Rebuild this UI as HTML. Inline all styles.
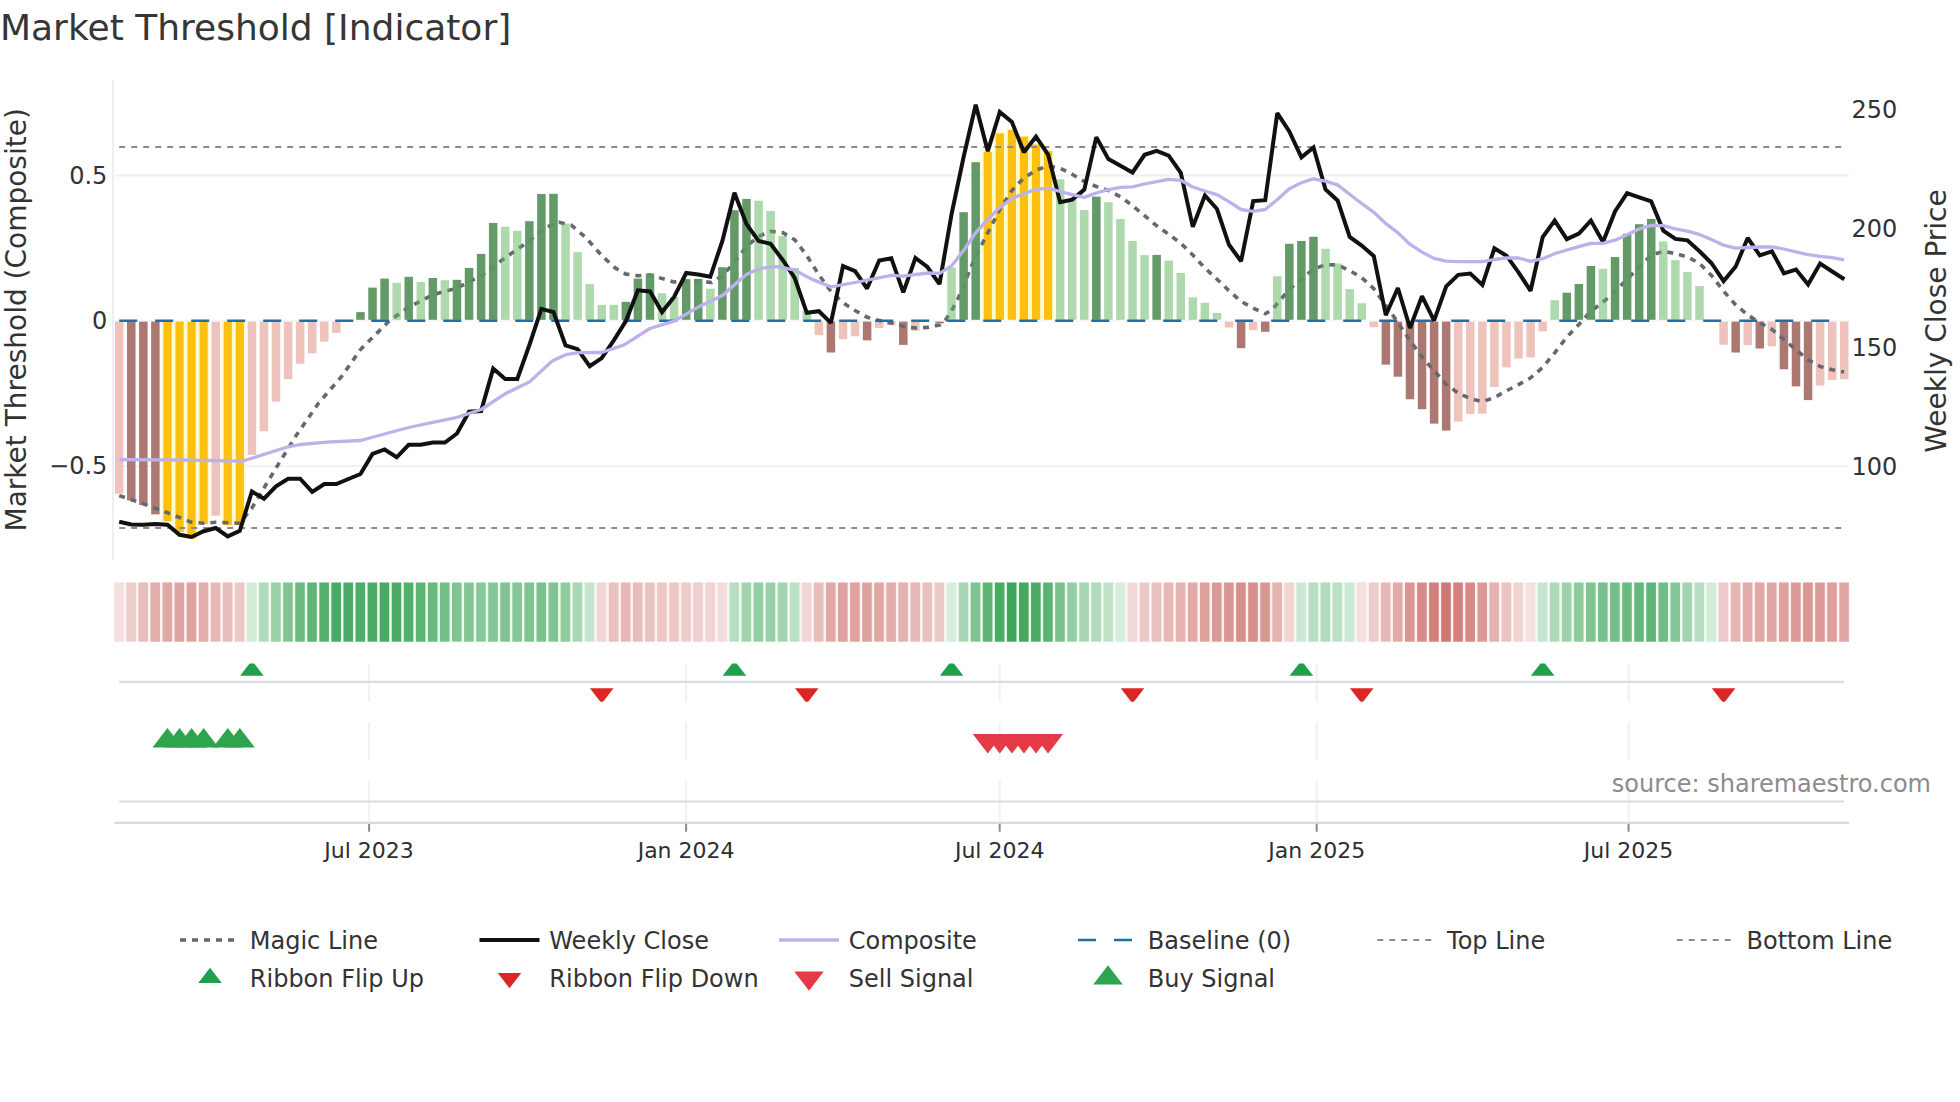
<!DOCTYPE html><html><head><meta charset="utf-8"><title>Market Threshold [Indicator]</title>
<style>html,body{margin:0;padding:0;background:#fff;}svg{display:block;font-family:"DejaVu Sans","Liberation Sans",sans-serif;}text{font-family:"DejaVu Sans","Liberation Sans",sans-serif;}</style></head><body>
<svg width="1960" height="1102" viewBox="0 0 1960 1102">
<rect width="1960" height="1102" fill="#fff"/>
<defs><clipPath id="cm"><rect x="115" y="80" width="1734" height="480"/></clipPath><clipPath id="cf"><rect x="115" y="663.6" width="1734" height="38.1"/></clipPath></defs>
<g stroke="#f0f0f3" stroke-width="2">
<line x1="115" x2="1849" y1="175.4" y2="175.4"/>
<line x1="115" x2="1849" y1="466.2" y2="466.2"/>
</g>
<line x1="115" x2="1849" y1="320.7" y2="320.7" stroke="#f7f7f9" stroke-width="2"/>
<line x1="113" x2="113" y1="80" y2="560" stroke="#eeeef6" stroke-width="2"/>
<g clip-path="url(#cm)">
<rect x="114.95" y="321.60" width="8.5" height="172.10" fill="#edc3bc"/>
<rect x="127.01" y="321.60" width="8.5" height="178.90" fill="#ac7871"/>
<rect x="139.08" y="321.60" width="8.5" height="183.40" fill="#ac7871"/>
<rect x="151.14" y="321.60" width="8.5" height="192.80" fill="#ac7871"/>
<rect x="161.35" y="320.60" width="12.2" height="200.70" fill="#fffad0"/>
<rect x="163.35" y="321.60" width="8.2" height="199.70" fill="#fdc010"/>
<rect x="173.42" y="320.60" width="12.2" height="211.30" fill="#fffad0"/>
<rect x="175.42" y="321.60" width="8.2" height="210.30" fill="#fdc010"/>
<rect x="185.48" y="320.60" width="12.2" height="218.00" fill="#fffad0"/>
<rect x="187.48" y="321.60" width="8.2" height="217.00" fill="#fdc010"/>
<rect x="197.54" y="320.60" width="12.2" height="203.40" fill="#fffad0"/>
<rect x="199.54" y="321.60" width="8.2" height="202.40" fill="#fdc010"/>
<rect x="211.46" y="321.60" width="8.5" height="194.10" fill="#edc3bc"/>
<rect x="221.67" y="320.60" width="12.2" height="204.50" fill="#fffad0"/>
<rect x="223.67" y="321.60" width="8.2" height="203.50" fill="#fdc010"/>
<rect x="233.73" y="320.60" width="12.2" height="204.50" fill="#fffad0"/>
<rect x="235.73" y="321.60" width="8.2" height="203.50" fill="#fdc010"/>
<rect x="247.65" y="321.60" width="8.5" height="133.30" fill="#edc3bc"/>
<rect x="259.71" y="321.60" width="8.5" height="109.70" fill="#edc3bc"/>
<rect x="271.77" y="321.60" width="8.5" height="80.10" fill="#edc3bc"/>
<rect x="283.84" y="321.60" width="8.5" height="57.60" fill="#edc3bc"/>
<rect x="295.90" y="321.60" width="8.5" height="42.10" fill="#edc3bc"/>
<rect x="307.96" y="321.60" width="8.5" height="31.80" fill="#edc3bc"/>
<rect x="320.03" y="321.60" width="8.5" height="20.10" fill="#edc3bc"/>
<rect x="332.09" y="321.60" width="8.5" height="11.30" fill="#edc3bc"/>
<rect x="814.62" y="321.60" width="8.5" height="13.60" fill="#edc3bc"/>
<rect x="826.68" y="321.60" width="8.5" height="30.90" fill="#ac7871"/>
<rect x="838.75" y="321.60" width="8.5" height="17.60" fill="#edc3bc"/>
<rect x="850.81" y="321.60" width="8.5" height="14.70" fill="#edc3bc"/>
<rect x="862.87" y="321.60" width="8.5" height="18.80" fill="#ac7871"/>
<rect x="874.94" y="321.60" width="8.5" height="6.40" fill="#edc3bc"/>
<rect x="887.00" y="321.60" width="8.5" height="3.70" fill="#edc3bc"/>
<rect x="899.06" y="321.60" width="8.5" height="23.30" fill="#ac7871"/>
<rect x="911.13" y="321.60" width="8.5" height="9.10" fill="#edc3bc"/>
<rect x="935.25" y="321.60" width="8.5" height="1.90" fill="#ac7871"/>
<rect x="981.66" y="150.90" width="12.2" height="168.90" fill="#fffad0"/>
<rect x="983.66" y="151.90" width="8.2" height="167.90" fill="#fdc010"/>
<rect x="993.72" y="132.30" width="12.2" height="187.50" fill="#fffad0"/>
<rect x="995.72" y="133.30" width="8.2" height="186.50" fill="#fdc010"/>
<rect x="1005.78" y="128.90" width="12.2" height="190.90" fill="#fffad0"/>
<rect x="1007.78" y="129.90" width="8.2" height="189.90" fill="#fdc010"/>
<rect x="1017.85" y="135.60" width="12.2" height="184.20" fill="#fffad0"/>
<rect x="1019.85" y="136.60" width="8.2" height="183.20" fill="#fdc010"/>
<rect x="1029.91" y="143.50" width="12.2" height="176.30" fill="#fffad0"/>
<rect x="1031.91" y="144.50" width="8.2" height="175.30" fill="#fdc010"/>
<rect x="1041.97" y="150.20" width="12.2" height="169.60" fill="#fffad0"/>
<rect x="1043.97" y="151.20" width="8.2" height="168.60" fill="#fdc010"/>
<rect x="1224.77" y="321.60" width="8.5" height="5.90" fill="#edc3bc"/>
<rect x="1236.84" y="321.60" width="8.5" height="26.60" fill="#ac7871"/>
<rect x="1248.90" y="321.60" width="8.5" height="8.50" fill="#edc3bc"/>
<rect x="1260.96" y="321.60" width="8.5" height="10.20" fill="#ac7871"/>
<rect x="1369.53" y="321.60" width="8.5" height="5.70" fill="#edc3bc"/>
<rect x="1381.60" y="321.60" width="8.5" height="43.00" fill="#ac7871"/>
<rect x="1393.66" y="321.60" width="8.5" height="55.10" fill="#ac7871"/>
<rect x="1405.72" y="321.60" width="8.5" height="77.70" fill="#ac7871"/>
<rect x="1417.79" y="321.60" width="8.5" height="87.60" fill="#ac7871"/>
<rect x="1429.85" y="321.60" width="8.5" height="102.00" fill="#ac7871"/>
<rect x="1441.91" y="321.60" width="8.5" height="109.00" fill="#ac7871"/>
<rect x="1453.98" y="321.60" width="8.5" height="100.00" fill="#edc3bc"/>
<rect x="1466.04" y="321.60" width="8.5" height="92.30" fill="#edc3bc"/>
<rect x="1478.10" y="321.60" width="8.5" height="92.10" fill="#edc3bc"/>
<rect x="1490.17" y="321.60" width="8.5" height="65.40" fill="#edc3bc"/>
<rect x="1502.23" y="321.60" width="8.5" height="45.80" fill="#edc3bc"/>
<rect x="1514.29" y="321.60" width="8.5" height="37.00" fill="#edc3bc"/>
<rect x="1526.36" y="321.60" width="8.5" height="35.90" fill="#edc3bc"/>
<rect x="1538.42" y="321.60" width="8.5" height="9.80" fill="#edc3bc"/>
<rect x="1719.37" y="321.60" width="8.5" height="23.10" fill="#edc3bc"/>
<rect x="1731.43" y="321.60" width="8.5" height="30.90" fill="#ac7871"/>
<rect x="1743.50" y="321.60" width="8.5" height="23.50" fill="#edc3bc"/>
<rect x="1755.56" y="321.60" width="8.5" height="26.90" fill="#ac7871"/>
<rect x="1767.62" y="321.60" width="8.5" height="24.60" fill="#edc3bc"/>
<rect x="1779.69" y="321.60" width="8.5" height="47.70" fill="#ac7871"/>
<rect x="1791.75" y="321.60" width="8.5" height="64.80" fill="#ac7871"/>
<rect x="1803.81" y="321.60" width="8.5" height="78.50" fill="#ac7871"/>
<rect x="1815.88" y="321.60" width="8.5" height="63.90" fill="#edc3bc"/>
<rect x="1827.94" y="321.60" width="8.5" height="58.30" fill="#edc3bc"/>
<rect x="1840.00" y="321.60" width="8.5" height="57.60" fill="#edc3bc"/>
</g>
<g clip-path="url(#cm)" fill="none">
<path d="M119.2,495.6 L143.2,503.8 L167.5,512.8 L191.5,522.2 L203.6,523.3 L215.7,522.2 L239.8,523.3 L251.9,508.0 L276.1,467.9 L296.3,435.3 L318.8,402.8 L341.2,377.0 L360.3,349.8 L388.4,321.7 L408.6,307.1 L432.8,294.8 L456.8,288.1 L481.1,275.7 L505.1,257.8 L529.3,240.9 L545.5,227.5 L559.0,222.3 L571.3,225.2 L585.9,237.6 L601.6,255.5 L615.1,267.9 L625.9,274.1 L638.0,275.7 L649.9,275.0 L674.1,282.0 L698.2,280.9 L711.6,282.5 L722.4,275.7 L734.5,262.2 L746.4,246.5 L758.5,236.4 L770.6,231.3 L782.7,232.6 L794.8,239.8 L806.7,255.5 L818.8,274.6 L830.9,291.4 L843.1,302.7 L855.0,310.5 L867.1,317.2 L879.2,320.6 L891.3,322.9 L903.2,326.2 L915.3,328.0 L927.5,327.4 L939.6,325.1 L945.5,320.0 L951.5,311.0 L957.8,299.0 L963.6,285.8 L969.8,270.0 L975.6,256.7 L987.7,233.0 L999.8,209.5 L1011.9,190.4 L1023.8,178.1 L1035.9,170.2 L1048.1,165.9 L1060.1,168.2 L1072.1,174.2 L1084.2,181.4 L1096.3,186.5 L1108.4,190.4 L1120.4,196.6 L1132.4,205.6 L1144.6,215.7 L1156.7,225.8 L1168.6,234.2 L1180.7,243.2 L1192.8,255.0 L1204.9,268.0 L1217.0,279.2 L1228.9,290.6 L1241.0,301.3 L1253.1,308.1 L1265.3,313.7 L1272.2,309.8 L1277.2,303.6 L1289.3,289.5 L1301.4,278.9 L1313.5,269.3 L1325.4,264.6 L1337.5,264.9 L1349.7,270.7 L1361.6,277.5 L1373.8,288.7 L1385.9,305.5 L1397.8,322.3 L1409.9,340.3 L1422.0,357.1 L1434.1,370.6 L1446.0,384.1 L1458.2,393.1 L1470.3,398.7 L1482.4,401.6 L1494.3,397.6 L1506.4,390.8 L1518.5,384.6 L1530.4,378.0 L1542.6,367.4 L1554.7,352.8 L1566.8,337.0 L1578.7,324.7 L1590.8,311.2 L1603.0,302.2 L1615.1,291.6 L1627.0,279.3 L1639.1,266.9 L1651.1,255.3 L1663.2,251.3 L1675.3,253.5 L1687.4,256.9 L1699.3,263.2 L1711.5,275.5 L1723.6,291.2 L1735.5,304.7 L1747.6,314.8 L1759.7,322.7 L1771.9,329.4 L1783.8,339.5 L1795.9,349.6 L1808.0,359.7 L1820.1,366.4 L1832.2,369.8 L1844.1,372.0" stroke="#666870" stroke-width="3.6" stroke-dasharray="6,6" stroke-linejoin="round"/>
</g>
<g clip-path="url(#cm)">
<rect x="356.22" y="312.10" width="8.5" height="7.70" fill="rgb(92,147,96)" fill-opacity="0.95"/>
<rect x="368.28" y="287.60" width="8.5" height="32.20" fill="rgb(92,147,96)" fill-opacity="0.95"/>
<rect x="380.34" y="278.60" width="8.5" height="41.20" fill="rgb(92,147,96)" fill-opacity="0.95"/>
<rect x="392.41" y="282.90" width="8.5" height="36.90" fill="rgb(93,179,89)" fill-opacity="0.5"/>
<rect x="404.47" y="276.80" width="8.5" height="43.00" fill="rgb(92,147,96)" fill-opacity="0.95"/>
<rect x="416.53" y="282.00" width="8.5" height="37.80" fill="rgb(93,179,89)" fill-opacity="0.5"/>
<rect x="428.60" y="278.00" width="8.5" height="41.80" fill="rgb(92,147,96)" fill-opacity="0.95"/>
<rect x="440.66" y="280.20" width="8.5" height="39.60" fill="rgb(93,179,89)" fill-opacity="0.5"/>
<rect x="452.72" y="279.80" width="8.5" height="40.00" fill="rgb(92,147,96)" fill-opacity="0.95"/>
<rect x="464.79" y="267.90" width="8.5" height="51.90" fill="rgb(92,147,96)" fill-opacity="0.95"/>
<rect x="476.85" y="253.90" width="8.5" height="65.90" fill="rgb(92,147,96)" fill-opacity="0.95"/>
<rect x="488.91" y="223.00" width="8.5" height="96.80" fill="rgb(92,147,96)" fill-opacity="0.95"/>
<rect x="500.98" y="226.80" width="8.5" height="93.00" fill="rgb(93,179,89)" fill-opacity="0.5"/>
<rect x="513.04" y="230.80" width="8.5" height="89.00" fill="rgb(93,179,89)" fill-opacity="0.5"/>
<rect x="525.10" y="221.20" width="8.5" height="98.60" fill="rgb(92,147,96)" fill-opacity="0.95"/>
<rect x="537.17" y="194.00" width="8.5" height="125.80" fill="rgb(92,147,96)" fill-opacity="0.95"/>
<rect x="549.23" y="193.80" width="8.5" height="126.00" fill="rgb(92,147,96)" fill-opacity="0.95"/>
<rect x="561.29" y="223.60" width="8.5" height="96.20" fill="rgb(93,179,89)" fill-opacity="0.5"/>
<rect x="573.36" y="252.10" width="8.5" height="67.70" fill="rgb(93,179,89)" fill-opacity="0.5"/>
<rect x="585.42" y="284.00" width="8.5" height="35.80" fill="rgb(93,179,89)" fill-opacity="0.5"/>
<rect x="597.48" y="304.90" width="8.5" height="14.90" fill="rgb(93,179,89)" fill-opacity="0.5"/>
<rect x="609.55" y="304.90" width="8.5" height="14.90" fill="rgb(93,179,89)" fill-opacity="0.5"/>
<rect x="621.61" y="301.80" width="8.5" height="18.00" fill="rgb(92,147,96)" fill-opacity="0.95"/>
<rect x="633.67" y="278.60" width="8.5" height="41.20" fill="rgb(92,147,96)" fill-opacity="0.95"/>
<rect x="645.74" y="273.50" width="8.5" height="46.30" fill="rgb(92,147,96)" fill-opacity="0.95"/>
<rect x="657.80" y="293.20" width="8.5" height="26.60" fill="rgb(93,179,89)" fill-opacity="0.5"/>
<rect x="669.86" y="297.00" width="8.5" height="22.80" fill="rgb(93,179,89)" fill-opacity="0.5"/>
<rect x="681.93" y="279.10" width="8.5" height="40.70" fill="rgb(92,147,96)" fill-opacity="0.95"/>
<rect x="693.99" y="278.90" width="8.5" height="40.90" fill="rgb(92,147,96)" fill-opacity="0.95"/>
<rect x="706.05" y="288.70" width="8.5" height="31.10" fill="rgb(93,179,89)" fill-opacity="0.5"/>
<rect x="718.12" y="267.20" width="8.5" height="52.60" fill="rgb(92,147,96)" fill-opacity="0.95"/>
<rect x="730.18" y="210.20" width="8.5" height="109.60" fill="rgb(92,147,96)" fill-opacity="0.95"/>
<rect x="742.24" y="198.90" width="8.5" height="120.90" fill="rgb(92,147,96)" fill-opacity="0.95"/>
<rect x="754.30" y="200.70" width="8.5" height="119.10" fill="rgb(93,179,89)" fill-opacity="0.5"/>
<rect x="766.37" y="211.00" width="8.5" height="108.80" fill="rgb(93,179,89)" fill-opacity="0.5"/>
<rect x="778.43" y="236.00" width="8.5" height="83.80" fill="rgb(93,179,89)" fill-opacity="0.5"/>
<rect x="790.49" y="267.90" width="8.5" height="51.90" fill="rgb(93,179,89)" fill-opacity="0.5"/>
<rect x="802.56" y="311.00" width="8.5" height="8.80" fill="rgb(93,179,89)" fill-opacity="0.5"/>
<rect x="947.32" y="267.50" width="8.5" height="52.30" fill="rgb(93,179,89)" fill-opacity="0.5"/>
<rect x="959.38" y="212.20" width="8.5" height="107.60" fill="rgb(92,147,96)" fill-opacity="0.95"/>
<rect x="971.44" y="162.20" width="8.5" height="157.60" fill="rgb(92,147,96)" fill-opacity="0.95"/>
<rect x="1055.89" y="179.30" width="8.5" height="140.50" fill="rgb(93,179,89)" fill-opacity="0.5"/>
<rect x="1067.95" y="199.00" width="8.5" height="120.80" fill="rgb(93,179,89)" fill-opacity="0.5"/>
<rect x="1080.01" y="210.00" width="8.5" height="109.80" fill="rgb(93,179,89)" fill-opacity="0.5"/>
<rect x="1092.08" y="196.60" width="8.5" height="123.20" fill="rgb(92,147,96)" fill-opacity="0.95"/>
<rect x="1104.14" y="202.20" width="8.5" height="117.60" fill="rgb(93,179,89)" fill-opacity="0.5"/>
<rect x="1116.20" y="219.00" width="8.5" height="100.80" fill="rgb(93,179,89)" fill-opacity="0.5"/>
<rect x="1128.27" y="241.00" width="8.5" height="78.80" fill="rgb(93,179,89)" fill-opacity="0.5"/>
<rect x="1140.33" y="255.10" width="8.5" height="64.70" fill="rgb(93,179,89)" fill-opacity="0.5"/>
<rect x="1152.39" y="254.90" width="8.5" height="64.90" fill="rgb(92,147,96)" fill-opacity="0.95"/>
<rect x="1164.46" y="260.60" width="8.5" height="59.20" fill="rgb(93,179,89)" fill-opacity="0.5"/>
<rect x="1176.52" y="273.00" width="8.5" height="46.80" fill="rgb(93,179,89)" fill-opacity="0.5"/>
<rect x="1188.58" y="297.40" width="8.5" height="22.40" fill="rgb(93,179,89)" fill-opacity="0.5"/>
<rect x="1200.65" y="302.80" width="8.5" height="17.00" fill="rgb(93,179,89)" fill-opacity="0.5"/>
<rect x="1212.71" y="312.90" width="8.5" height="6.90" fill="rgb(93,179,89)" fill-opacity="0.5"/>
<rect x="1273.03" y="276.30" width="8.5" height="43.50" fill="rgb(93,179,89)" fill-opacity="0.5"/>
<rect x="1285.09" y="243.80" width="8.5" height="76.00" fill="rgb(92,147,96)" fill-opacity="0.95"/>
<rect x="1297.15" y="241.00" width="8.5" height="78.80" fill="rgb(92,147,96)" fill-opacity="0.95"/>
<rect x="1309.22" y="236.80" width="8.5" height="83.00" fill="rgb(92,147,96)" fill-opacity="0.95"/>
<rect x="1321.28" y="248.80" width="8.5" height="71.00" fill="rgb(93,179,89)" fill-opacity="0.5"/>
<rect x="1333.34" y="263.50" width="8.5" height="56.30" fill="rgb(93,179,89)" fill-opacity="0.5"/>
<rect x="1345.41" y="289.10" width="8.5" height="30.70" fill="rgb(93,179,89)" fill-opacity="0.5"/>
<rect x="1357.47" y="303.30" width="8.5" height="16.50" fill="rgb(93,179,89)" fill-opacity="0.5"/>
<rect x="1550.48" y="300.20" width="8.5" height="19.60" fill="rgb(93,179,89)" fill-opacity="0.5"/>
<rect x="1562.55" y="292.70" width="8.5" height="27.10" fill="rgb(92,147,96)" fill-opacity="0.95"/>
<rect x="1574.61" y="284.00" width="8.5" height="35.80" fill="rgb(92,147,96)" fill-opacity="0.95"/>
<rect x="1586.67" y="266.00" width="8.5" height="53.80" fill="rgb(92,147,96)" fill-opacity="0.95"/>
<rect x="1598.74" y="268.80" width="8.5" height="51.00" fill="rgb(93,179,89)" fill-opacity="0.5"/>
<rect x="1610.80" y="257.00" width="8.5" height="62.80" fill="rgb(92,147,96)" fill-opacity="0.95"/>
<rect x="1622.86" y="233.80" width="8.5" height="86.00" fill="rgb(92,147,96)" fill-opacity="0.95"/>
<rect x="1634.93" y="224.20" width="8.5" height="95.60" fill="rgb(92,147,96)" fill-opacity="0.95"/>
<rect x="1646.99" y="218.90" width="8.5" height="100.90" fill="rgb(92,147,96)" fill-opacity="0.95"/>
<rect x="1659.05" y="241.40" width="8.5" height="78.40" fill="rgb(93,179,89)" fill-opacity="0.5"/>
<rect x="1671.12" y="260.20" width="8.5" height="59.60" fill="rgb(93,179,89)" fill-opacity="0.5"/>
<rect x="1683.18" y="272.10" width="8.5" height="47.70" fill="rgb(93,179,89)" fill-opacity="0.5"/>
<rect x="1695.24" y="286.10" width="8.5" height="33.70" fill="rgb(93,179,89)" fill-opacity="0.5"/>
</g>
<g clip-path="url(#cm)" fill="none">
<path d="M119.2,320.7 H1844.3" stroke="#1f6fa8" stroke-width="2.6" stroke-dasharray="18,18"/>
<path d="M119.2,147 H1844.3" stroke="#8c8c8c" stroke-width="2" stroke-dasharray="6,6"/>
<path d="M119.2,528 H1844.3" stroke="#8c8c8c" stroke-width="2" stroke-dasharray="6,6"/>
<path d="M119.2,521.8 L131.3,524.4 L143.3,524.7 L155.4,524.0 L167.5,524.7 L179.5,534.8 L191.6,537.0 L203.6,531.2 L215.7,528.0 L227.8,536.4 L239.8,530.8 L251.9,491.5 L264.0,498.7 L276.0,486.3 L288.1,478.7 L300.1,478.7 L312.2,491.9 L324.3,484.0 L336.3,484.0 L348.4,479.0 L360.5,474.0 L372.5,454.0 L384.6,449.5 L396.7,457.3 L408.7,444.8 L420.8,444.8 L432.8,442.5 L444.9,442.5 L457.0,433.5 L469.0,411.8 L481.1,411.1 L493.2,368.6 L505.2,379.0 L517.3,379.0 L529.4,345.0 L541.4,308.9 L553.5,312.1 L565.5,345.3 L577.6,349.1 L589.7,366.2 L601.7,358.1 L613.8,340.4 L625.9,321.1 L637.9,290.3 L650.0,291.4 L662.0,312.1 L674.1,297.0 L686.2,273.0 L698.2,274.6 L710.3,276.8 L722.4,240.9 L734.4,192.7 L746.5,224.1 L758.6,240.9 L770.6,243.8 L782.7,260.0 L794.7,278.0 L806.8,312.8 L818.9,311.2 L830.9,322.9 L843.0,266.1 L855.1,271.2 L867.1,288.5 L879.2,260.5 L891.3,258.2 L903.3,292.4 L915.4,258.0 L927.4,267.0 L939.5,284.1 L951.6,214.0 L963.6,157.0 L975.7,104.8 L987.8,151.2 L999.8,111.9 L1011.9,122.0 L1023.9,152.3 L1036.0,136.6 L1048.1,154.6 L1060.1,202.2 L1072.2,199.6 L1084.3,189.6 L1096.3,137.1 L1108.4,159.1 L1120.5,165.8 L1132.5,172.5 L1144.6,154.8 L1156.6,150.9 L1168.7,155.7 L1180.8,172.8 L1192.8,226.9 L1204.9,195.5 L1217.0,209.0 L1229.0,244.8 L1241.1,261.2 L1253.2,201.1 L1265.2,200.2 L1277.3,113.1 L1289.3,131.5 L1301.4,157.3 L1313.5,147.4 L1325.5,189.4 L1337.6,200.4 L1349.7,237.0 L1361.7,245.6 L1373.8,256.1 L1385.8,315.2 L1397.9,288.0 L1410.0,328.0 L1422.0,296.1 L1434.1,320.6 L1446.2,286.4 L1458.2,274.8 L1470.3,273.6 L1482.4,284.9 L1494.4,248.3 L1506.5,255.7 L1518.5,272.3 L1530.6,290.8 L1542.7,237.0 L1554.7,220.6 L1566.8,239.1 L1578.9,233.6 L1590.9,220.6 L1603.0,241.9 L1615.0,211.4 L1627.1,193.1 L1639.2,197.4 L1651.2,201.4 L1663.3,230.6 L1675.4,238.9 L1687.4,240.3 L1699.5,251.3 L1711.6,263.2 L1723.6,281.1 L1735.7,266.5 L1747.7,238.0 L1759.8,255.3 L1771.9,251.3 L1783.9,273.3 L1796.0,269.5 L1808.1,284.5 L1820.1,263.6 L1832.2,271.5 L1844.3,279.3" stroke="#111" stroke-width="4" stroke-linejoin="miter" stroke-miterlimit="2"/>
<path d="M119.2,459.6 L180.0,460.0 L239.8,461.2 L244.5,460.5 L288.1,446.8 L300.1,444.5 L330.0,441.9 L360.5,440.5 L408.6,427.5 L457.0,417.4 L481.1,409.5 L505.1,393.8 L529.3,382.1 L552.2,361.0 L565.7,354.7 L579.2,352.7 L601.6,352.5 L624.1,344.9 L649.9,328.5 L674.1,321.1 L698.2,307.1 L722.4,295.5 L734.5,284.7 L746.4,274.6 L758.5,269.0 L770.0,266.9 L778.0,266.7 L794.8,270.1 L811.6,279.1 L830.9,286.9 L855.0,282.5 L891.3,275.3 L903.2,276.2 L927.5,273.0 L939.6,273.3 L951.5,265.9 L963.6,250.5 L975.6,232.9 L987.7,219.4 L999.8,207.3 L1011.9,198.6 L1023.8,193.6 L1035.9,189.5 L1048.1,188.2 L1060.1,191.5 L1072.1,194.7 L1084.2,197.4 L1096.3,193.0 L1108.4,189.7 L1120.4,187.4 L1132.4,186.8 L1144.6,184.0 L1156.7,181.7 L1168.6,179.4 L1180.7,180.3 L1192.8,187.0 L1204.9,191.0 L1217.0,194.6 L1228.9,201.7 L1241.0,209.5 L1253.1,211.3 L1265.3,209.5 L1277.2,199.7 L1289.3,188.7 L1301.4,182.7 L1313.5,178.8 L1325.4,181.1 L1337.5,184.9 L1357.1,200.0 L1373.8,212.3 L1385.9,223.6 L1397.8,232.6 L1409.9,244.2 L1422.0,252.1 L1434.1,258.4 L1446.0,261.1 L1458.2,261.7 L1482.4,261.7 L1494.3,259.5 L1506.4,257.9 L1518.5,258.0 L1530.4,261.3 L1542.6,258.7 L1554.7,253.7 L1566.8,250.0 L1578.7,246.6 L1590.8,243.4 L1603.0,243.3 L1615.1,240.2 L1627.0,234.7 L1639.1,229.0 L1651.1,225.4 L1663.2,225.7 L1675.3,228.8 L1687.4,231.1 L1699.3,234.4 L1711.5,239.6 L1723.6,245.2 L1735.5,248.1 L1747.6,247.5 L1759.7,247.0 L1771.9,246.8 L1783.8,249.0 L1795.9,251.9 L1808.0,254.6 L1820.1,256.4 L1832.2,257.6 L1844.1,259.8" stroke="#bdb1ec" stroke-width="3.3" stroke-linejoin="round"/>
</g>
<g>
<rect x="113.05" y="582.5" width="12.06" height="59.2" fill="#fff3f2"/>
<rect x="125.11" y="582.5" width="12.06" height="59.2" fill="#fff3f2"/>
<rect x="137.18" y="582.5" width="12.06" height="59.2" fill="#fff3f2"/>
<rect x="149.24" y="582.5" width="12.06" height="59.2" fill="#fff3f2"/>
<rect x="161.30" y="582.5" width="12.06" height="59.2" fill="#fff3f2"/>
<rect x="173.37" y="582.5" width="12.06" height="59.2" fill="#fff3f2"/>
<rect x="185.43" y="582.5" width="12.06" height="59.2" fill="#fff3f2"/>
<rect x="197.49" y="582.5" width="12.06" height="59.2" fill="#fff3f2"/>
<rect x="209.56" y="582.5" width="12.06" height="59.2" fill="#fff3f2"/>
<rect x="221.62" y="582.5" width="12.06" height="59.2" fill="#fff3f2"/>
<rect x="233.68" y="582.5" width="12.06" height="59.2" fill="#fff3f2"/>
<rect x="245.75" y="582.5" width="12.06" height="59.2" fill="#effcef"/>
<rect x="257.81" y="582.5" width="12.06" height="59.2" fill="#effcef"/>
<rect x="269.87" y="582.5" width="12.06" height="59.2" fill="#effcef"/>
<rect x="281.94" y="582.5" width="12.06" height="59.2" fill="#effcef"/>
<rect x="294.00" y="582.5" width="12.06" height="59.2" fill="#effcef"/>
<rect x="306.06" y="582.5" width="12.06" height="59.2" fill="#effcef"/>
<rect x="318.13" y="582.5" width="12.06" height="59.2" fill="#effcef"/>
<rect x="330.19" y="582.5" width="12.06" height="59.2" fill="#effcef"/>
<rect x="342.25" y="582.5" width="12.06" height="59.2" fill="#effcef"/>
<rect x="354.32" y="582.5" width="12.06" height="59.2" fill="#effcef"/>
<rect x="366.38" y="582.5" width="12.06" height="59.2" fill="#effcef"/>
<rect x="378.44" y="582.5" width="12.06" height="59.2" fill="#effcef"/>
<rect x="390.51" y="582.5" width="12.06" height="59.2" fill="#effcef"/>
<rect x="402.57" y="582.5" width="12.06" height="59.2" fill="#effcef"/>
<rect x="414.63" y="582.5" width="12.06" height="59.2" fill="#effcef"/>
<rect x="426.70" y="582.5" width="12.06" height="59.2" fill="#effcef"/>
<rect x="438.76" y="582.5" width="12.06" height="59.2" fill="#effcef"/>
<rect x="450.82" y="582.5" width="12.06" height="59.2" fill="#effcef"/>
<rect x="462.89" y="582.5" width="12.06" height="59.2" fill="#effcef"/>
<rect x="474.95" y="582.5" width="12.06" height="59.2" fill="#effcef"/>
<rect x="487.01" y="582.5" width="12.06" height="59.2" fill="#effcef"/>
<rect x="499.08" y="582.5" width="12.06" height="59.2" fill="#effcef"/>
<rect x="511.14" y="582.5" width="12.06" height="59.2" fill="#effcef"/>
<rect x="523.20" y="582.5" width="12.06" height="59.2" fill="#effcef"/>
<rect x="535.27" y="582.5" width="12.06" height="59.2" fill="#effcef"/>
<rect x="547.33" y="582.5" width="12.06" height="59.2" fill="#effcef"/>
<rect x="559.39" y="582.5" width="12.06" height="59.2" fill="#effcef"/>
<rect x="571.46" y="582.5" width="12.06" height="59.2" fill="#effcef"/>
<rect x="583.52" y="582.5" width="12.06" height="59.2" fill="#effcef"/>
<rect x="595.58" y="582.5" width="12.06" height="59.2" fill="#fff3f2"/>
<rect x="607.65" y="582.5" width="12.06" height="59.2" fill="#fff3f2"/>
<rect x="619.71" y="582.5" width="12.06" height="59.2" fill="#fff3f2"/>
<rect x="631.77" y="582.5" width="12.06" height="59.2" fill="#fff3f2"/>
<rect x="643.84" y="582.5" width="12.06" height="59.2" fill="#fff3f2"/>
<rect x="655.90" y="582.5" width="12.06" height="59.2" fill="#fff3f2"/>
<rect x="667.96" y="582.5" width="12.06" height="59.2" fill="#fff3f2"/>
<rect x="680.03" y="582.5" width="12.06" height="59.2" fill="#fff3f2"/>
<rect x="692.09" y="582.5" width="12.06" height="59.2" fill="#fff3f2"/>
<rect x="704.15" y="582.5" width="12.06" height="59.2" fill="#fff3f2"/>
<rect x="716.22" y="582.5" width="12.06" height="59.2" fill="#fff3f2"/>
<rect x="728.28" y="582.5" width="12.06" height="59.2" fill="#effcef"/>
<rect x="740.34" y="582.5" width="12.06" height="59.2" fill="#effcef"/>
<rect x="752.40" y="582.5" width="12.06" height="59.2" fill="#effcef"/>
<rect x="764.47" y="582.5" width="12.06" height="59.2" fill="#effcef"/>
<rect x="776.53" y="582.5" width="12.06" height="59.2" fill="#effcef"/>
<rect x="788.59" y="582.5" width="12.06" height="59.2" fill="#effcef"/>
<rect x="800.66" y="582.5" width="12.06" height="59.2" fill="#fff3f2"/>
<rect x="812.72" y="582.5" width="12.06" height="59.2" fill="#fff3f2"/>
<rect x="824.78" y="582.5" width="12.06" height="59.2" fill="#fff3f2"/>
<rect x="836.85" y="582.5" width="12.06" height="59.2" fill="#fff3f2"/>
<rect x="848.91" y="582.5" width="12.06" height="59.2" fill="#fff3f2"/>
<rect x="860.97" y="582.5" width="12.06" height="59.2" fill="#fff3f2"/>
<rect x="873.04" y="582.5" width="12.06" height="59.2" fill="#fff3f2"/>
<rect x="885.10" y="582.5" width="12.06" height="59.2" fill="#fff3f2"/>
<rect x="897.16" y="582.5" width="12.06" height="59.2" fill="#fff3f2"/>
<rect x="909.23" y="582.5" width="12.06" height="59.2" fill="#fff3f2"/>
<rect x="921.29" y="582.5" width="12.06" height="59.2" fill="#fff3f2"/>
<rect x="933.35" y="582.5" width="12.06" height="59.2" fill="#fff3f2"/>
<rect x="945.42" y="582.5" width="12.06" height="59.2" fill="#effcef"/>
<rect x="957.48" y="582.5" width="12.06" height="59.2" fill="#effcef"/>
<rect x="969.54" y="582.5" width="12.06" height="59.2" fill="#effcef"/>
<rect x="981.61" y="582.5" width="12.06" height="59.2" fill="#effcef"/>
<rect x="993.67" y="582.5" width="12.06" height="59.2" fill="#effcef"/>
<rect x="1005.73" y="582.5" width="12.06" height="59.2" fill="#effcef"/>
<rect x="1017.80" y="582.5" width="12.06" height="59.2" fill="#effcef"/>
<rect x="1029.86" y="582.5" width="12.06" height="59.2" fill="#effcef"/>
<rect x="1041.92" y="582.5" width="12.06" height="59.2" fill="#effcef"/>
<rect x="1053.99" y="582.5" width="12.06" height="59.2" fill="#effcef"/>
<rect x="1066.05" y="582.5" width="12.06" height="59.2" fill="#effcef"/>
<rect x="1078.11" y="582.5" width="12.06" height="59.2" fill="#effcef"/>
<rect x="1090.18" y="582.5" width="12.06" height="59.2" fill="#effcef"/>
<rect x="1102.24" y="582.5" width="12.06" height="59.2" fill="#effcef"/>
<rect x="1114.30" y="582.5" width="12.06" height="59.2" fill="#effcef"/>
<rect x="1126.37" y="582.5" width="12.06" height="59.2" fill="#fff3f2"/>
<rect x="1138.43" y="582.5" width="12.06" height="59.2" fill="#fff3f2"/>
<rect x="1150.49" y="582.5" width="12.06" height="59.2" fill="#fff3f2"/>
<rect x="1162.56" y="582.5" width="12.06" height="59.2" fill="#fff3f2"/>
<rect x="1174.62" y="582.5" width="12.06" height="59.2" fill="#fff3f2"/>
<rect x="1186.68" y="582.5" width="12.06" height="59.2" fill="#fff3f2"/>
<rect x="1198.75" y="582.5" width="12.06" height="59.2" fill="#fff3f2"/>
<rect x="1210.81" y="582.5" width="12.06" height="59.2" fill="#fff3f2"/>
<rect x="1222.87" y="582.5" width="12.06" height="59.2" fill="#fff3f2"/>
<rect x="1234.94" y="582.5" width="12.06" height="59.2" fill="#fff3f2"/>
<rect x="1247.00" y="582.5" width="12.06" height="59.2" fill="#fff3f2"/>
<rect x="1259.06" y="582.5" width="12.06" height="59.2" fill="#fff3f2"/>
<rect x="1271.13" y="582.5" width="12.06" height="59.2" fill="#fff3f2"/>
<rect x="1283.19" y="582.5" width="12.06" height="59.2" fill="#fff3f2"/>
<rect x="1295.25" y="582.5" width="12.06" height="59.2" fill="#effcef"/>
<rect x="1307.32" y="582.5" width="12.06" height="59.2" fill="#effcef"/>
<rect x="1319.38" y="582.5" width="12.06" height="59.2" fill="#effcef"/>
<rect x="1331.44" y="582.5" width="12.06" height="59.2" fill="#effcef"/>
<rect x="1343.51" y="582.5" width="12.06" height="59.2" fill="#effcef"/>
<rect x="1355.57" y="582.5" width="12.06" height="59.2" fill="#fff3f2"/>
<rect x="1367.63" y="582.5" width="12.06" height="59.2" fill="#fff3f2"/>
<rect x="1379.70" y="582.5" width="12.06" height="59.2" fill="#fff3f2"/>
<rect x="1391.76" y="582.5" width="12.06" height="59.2" fill="#fff3f2"/>
<rect x="1403.82" y="582.5" width="12.06" height="59.2" fill="#fff3f2"/>
<rect x="1415.89" y="582.5" width="12.06" height="59.2" fill="#fff3f2"/>
<rect x="1427.95" y="582.5" width="12.06" height="59.2" fill="#fff3f2"/>
<rect x="1440.01" y="582.5" width="12.06" height="59.2" fill="#fff3f2"/>
<rect x="1452.08" y="582.5" width="12.06" height="59.2" fill="#fff3f2"/>
<rect x="1464.14" y="582.5" width="12.06" height="59.2" fill="#fff3f2"/>
<rect x="1476.20" y="582.5" width="12.06" height="59.2" fill="#fff3f2"/>
<rect x="1488.27" y="582.5" width="12.06" height="59.2" fill="#fff3f2"/>
<rect x="1500.33" y="582.5" width="12.06" height="59.2" fill="#fff3f2"/>
<rect x="1512.39" y="582.5" width="12.06" height="59.2" fill="#fff3f2"/>
<rect x="1524.46" y="582.5" width="12.06" height="59.2" fill="#fff3f2"/>
<rect x="1536.52" y="582.5" width="12.06" height="59.2" fill="#effcef"/>
<rect x="1548.58" y="582.5" width="12.06" height="59.2" fill="#effcef"/>
<rect x="1560.65" y="582.5" width="12.06" height="59.2" fill="#effcef"/>
<rect x="1572.71" y="582.5" width="12.06" height="59.2" fill="#effcef"/>
<rect x="1584.77" y="582.5" width="12.06" height="59.2" fill="#effcef"/>
<rect x="1596.84" y="582.5" width="12.06" height="59.2" fill="#effcef"/>
<rect x="1608.90" y="582.5" width="12.06" height="59.2" fill="#effcef"/>
<rect x="1620.96" y="582.5" width="12.06" height="59.2" fill="#effcef"/>
<rect x="1633.03" y="582.5" width="12.06" height="59.2" fill="#effcef"/>
<rect x="1645.09" y="582.5" width="12.06" height="59.2" fill="#effcef"/>
<rect x="1657.15" y="582.5" width="12.06" height="59.2" fill="#effcef"/>
<rect x="1669.22" y="582.5" width="12.06" height="59.2" fill="#effcef"/>
<rect x="1681.28" y="582.5" width="12.06" height="59.2" fill="#effcef"/>
<rect x="1693.34" y="582.5" width="12.06" height="59.2" fill="#effcef"/>
<rect x="1705.41" y="582.5" width="12.06" height="59.2" fill="#effcef"/>
<rect x="1717.47" y="582.5" width="12.06" height="59.2" fill="#fff3f2"/>
<rect x="1729.53" y="582.5" width="12.06" height="59.2" fill="#fff3f2"/>
<rect x="1741.60" y="582.5" width="12.06" height="59.2" fill="#fff3f2"/>
<rect x="1753.66" y="582.5" width="12.06" height="59.2" fill="#fff3f2"/>
<rect x="1765.72" y="582.5" width="12.06" height="59.2" fill="#fff3f2"/>
<rect x="1777.79" y="582.5" width="12.06" height="59.2" fill="#fff3f2"/>
<rect x="1789.85" y="582.5" width="12.06" height="59.2" fill="#fff3f2"/>
<rect x="1801.91" y="582.5" width="12.06" height="59.2" fill="#fff3f2"/>
<rect x="1813.98" y="582.5" width="12.06" height="59.2" fill="#fff3f2"/>
<rect x="1826.04" y="582.5" width="12.06" height="59.2" fill="#fff3f2"/>
<rect x="1838.10" y="582.5" width="12.06" height="59.2" fill="#fff3f2"/>
<rect x="112" y="582" width="2.6" height="60" fill="#fff"/>
<rect x="114.25" y="582.5" width="9.6" height="59.2" fill="#f4e0df"/>
<rect x="126.31" y="582.5" width="9.6" height="59.2" fill="#edcdcc"/>
<rect x="138.38" y="582.5" width="9.6" height="59.2" fill="#e8bebc"/>
<rect x="150.44" y="582.5" width="9.6" height="59.2" fill="#e2aeac"/>
<rect x="162.50" y="582.5" width="9.6" height="59.2" fill="#e0a8a5"/>
<rect x="174.57" y="582.5" width="9.6" height="59.2" fill="#dfa5a2"/>
<rect x="186.63" y="582.5" width="9.6" height="59.2" fill="#dea29f"/>
<rect x="198.69" y="582.5" width="9.6" height="59.2" fill="#e2aeac"/>
<rect x="210.76" y="582.5" width="9.6" height="59.2" fill="#e6b9b7"/>
<rect x="222.82" y="582.5" width="9.6" height="59.2" fill="#e8bebc"/>
<rect x="234.88" y="582.5" width="9.6" height="59.2" fill="#ebc7c5"/>
<rect x="246.95" y="582.5" width="9.6" height="59.2" fill="#d2ead8"/>
<rect x="259.01" y="582.5" width="9.6" height="59.2" fill="#b1dbbc"/>
<rect x="271.07" y="582.5" width="9.6" height="59.2" fill="#98d0a8"/>
<rect x="283.14" y="582.5" width="9.6" height="59.2" fill="#80c492"/>
<rect x="295.20" y="582.5" width="9.6" height="59.2" fill="#6bbb81"/>
<rect x="307.26" y="582.5" width="9.6" height="59.2" fill="#5fb576"/>
<rect x="319.33" y="582.5" width="9.6" height="59.2" fill="#53af6c"/>
<rect x="331.39" y="582.5" width="9.6" height="59.2" fill="#4bab65"/>
<rect x="343.45" y="582.5" width="9.6" height="59.2" fill="#4bab65"/>
<rect x="355.52" y="582.5" width="9.6" height="59.2" fill="#4dac67"/>
<rect x="367.58" y="582.5" width="9.6" height="59.2" fill="#4bab65"/>
<rect x="379.64" y="582.5" width="9.6" height="59.2" fill="#46aa62"/>
<rect x="391.71" y="582.5" width="9.6" height="59.2" fill="#4bab65"/>
<rect x="403.77" y="582.5" width="9.6" height="59.2" fill="#53af6c"/>
<rect x="415.83" y="582.5" width="9.6" height="59.2" fill="#5fb576"/>
<rect x="427.90" y="582.5" width="9.6" height="59.2" fill="#67b97e"/>
<rect x="439.96" y="582.5" width="9.6" height="59.2" fill="#74be88"/>
<rect x="452.02" y="582.5" width="9.6" height="59.2" fill="#80c492"/>
<rect x="464.09" y="582.5" width="9.6" height="59.2" fill="#84c696"/>
<rect x="476.15" y="582.5" width="9.6" height="59.2" fill="#88c89a"/>
<rect x="488.21" y="582.5" width="9.6" height="59.2" fill="#84c696"/>
<rect x="500.28" y="582.5" width="9.6" height="59.2" fill="#80c492"/>
<rect x="512.34" y="582.5" width="9.6" height="59.2" fill="#84c696"/>
<rect x="524.40" y="582.5" width="9.6" height="59.2" fill="#80c492"/>
<rect x="536.47" y="582.5" width="9.6" height="59.2" fill="#7cc28f"/>
<rect x="548.53" y="582.5" width="9.6" height="59.2" fill="#80c492"/>
<rect x="560.59" y="582.5" width="9.6" height="59.2" fill="#8ecb9f"/>
<rect x="572.66" y="582.5" width="9.6" height="59.2" fill="#a9d7b6"/>
<rect x="584.72" y="582.5" width="9.6" height="59.2" fill="#c6e4ce"/>
<rect x="596.78" y="582.5" width="9.6" height="59.2" fill="#f1d8d7"/>
<rect x="608.85" y="582.5" width="9.6" height="59.2" fill="#e9c1bf"/>
<rect x="620.91" y="582.5" width="9.6" height="59.2" fill="#e6b9b7"/>
<rect x="632.97" y="582.5" width="9.6" height="59.2" fill="#e8bebc"/>
<rect x="645.04" y="582.5" width="9.6" height="59.2" fill="#eac4c2"/>
<rect x="657.10" y="582.5" width="9.6" height="59.2" fill="#ebc7c5"/>
<rect x="669.16" y="582.5" width="9.6" height="59.2" fill="#ebc7c5"/>
<rect x="681.23" y="582.5" width="9.6" height="59.2" fill="#edcdcc"/>
<rect x="693.29" y="582.5" width="9.6" height="59.2" fill="#eed0cf"/>
<rect x="705.35" y="582.5" width="9.6" height="59.2" fill="#f0d4d2"/>
<rect x="717.41" y="582.5" width="9.6" height="59.2" fill="#f3dddc"/>
<rect x="729.48" y="582.5" width="9.6" height="59.2" fill="#b7dec2"/>
<rect x="741.54" y="582.5" width="9.6" height="59.2" fill="#a3d4b0"/>
<rect x="753.60" y="582.5" width="9.6" height="59.2" fill="#94cea4"/>
<rect x="765.67" y="582.5" width="9.6" height="59.2" fill="#98d0a8"/>
<rect x="777.73" y="582.5" width="9.6" height="59.2" fill="#a3d4b0"/>
<rect x="789.79" y="582.5" width="9.6" height="59.2" fill="#bbe0c5"/>
<rect x="801.86" y="582.5" width="9.6" height="59.2" fill="#f1d8d7"/>
<rect x="813.92" y="582.5" width="9.6" height="59.2" fill="#e8bebc"/>
<rect x="825.98" y="582.5" width="9.6" height="59.2" fill="#e1aaa7"/>
<rect x="838.05" y="582.5" width="9.6" height="59.2" fill="#dea29f"/>
<rect x="850.11" y="582.5" width="9.6" height="59.2" fill="#dea29f"/>
<rect x="862.17" y="582.5" width="9.6" height="59.2" fill="#dea29f"/>
<rect x="874.24" y="582.5" width="9.6" height="59.2" fill="#e0a8a5"/>
<rect x="886.30" y="582.5" width="9.6" height="59.2" fill="#e2aeac"/>
<rect x="898.36" y="582.5" width="9.6" height="59.2" fill="#e4b2af"/>
<rect x="910.43" y="582.5" width="9.6" height="59.2" fill="#e6b9b7"/>
<rect x="922.49" y="582.5" width="9.6" height="59.2" fill="#e9c1bf"/>
<rect x="934.55" y="582.5" width="9.6" height="59.2" fill="#ecc9c7"/>
<rect x="946.62" y="582.5" width="9.6" height="59.2" fill="#d6ecdc"/>
<rect x="958.68" y="582.5" width="9.6" height="59.2" fill="#a9d7b6"/>
<rect x="970.74" y="582.5" width="9.6" height="59.2" fill="#80c492"/>
<rect x="982.81" y="582.5" width="9.6" height="59.2" fill="#5fb576"/>
<rect x="994.87" y="582.5" width="9.6" height="59.2" fill="#4bab65"/>
<rect x="1006.93" y="582.5" width="9.6" height="59.2" fill="#3ca559"/>
<rect x="1019.00" y="582.5" width="9.6" height="59.2" fill="#42a85e"/>
<rect x="1031.06" y="582.5" width="9.6" height="59.2" fill="#4bab65"/>
<rect x="1043.12" y="582.5" width="9.6" height="59.2" fill="#5bb373"/>
<rect x="1055.19" y="582.5" width="9.6" height="59.2" fill="#7ac18d"/>
<rect x="1067.25" y="582.5" width="9.6" height="59.2" fill="#94cea4"/>
<rect x="1079.31" y="582.5" width="9.6" height="59.2" fill="#a9d7b6"/>
<rect x="1091.38" y="582.5" width="9.6" height="59.2" fill="#b1dbbc"/>
<rect x="1103.44" y="582.5" width="9.6" height="59.2" fill="#c2e2ca"/>
<rect x="1115.50" y="582.5" width="9.6" height="59.2" fill="#d6ecdc"/>
<rect x="1127.57" y="582.5" width="9.6" height="59.2" fill="#f1d8d7"/>
<rect x="1139.63" y="582.5" width="9.6" height="59.2" fill="#ecc9c7"/>
<rect x="1151.69" y="582.5" width="9.6" height="59.2" fill="#e9c1bf"/>
<rect x="1163.76" y="582.5" width="9.6" height="59.2" fill="#e6b9b7"/>
<rect x="1175.82" y="582.5" width="9.6" height="59.2" fill="#e4b2af"/>
<rect x="1187.88" y="582.5" width="9.6" height="59.2" fill="#e1aaa7"/>
<rect x="1199.95" y="582.5" width="9.6" height="59.2" fill="#dea29f"/>
<rect x="1212.01" y="582.5" width="9.6" height="59.2" fill="#db9a97"/>
<rect x="1224.07" y="582.5" width="9.6" height="59.2" fill="#da9692"/>
<rect x="1236.14" y="582.5" width="9.6" height="59.2" fill="#d78f8c"/>
<rect x="1248.20" y="582.5" width="9.6" height="59.2" fill="#d78f8c"/>
<rect x="1260.26" y="582.5" width="9.6" height="59.2" fill="#da9692"/>
<rect x="1272.33" y="582.5" width="9.6" height="59.2" fill="#e4b2af"/>
<rect x="1284.39" y="582.5" width="9.6" height="59.2" fill="#f0d4d2"/>
<rect x="1296.45" y="582.5" width="9.6" height="59.2" fill="#cce7d3"/>
<rect x="1308.52" y="582.5" width="9.6" height="59.2" fill="#b7dec2"/>
<rect x="1320.58" y="582.5" width="9.6" height="59.2" fill="#b1dbbc"/>
<rect x="1332.64" y="582.5" width="9.6" height="59.2" fill="#bbe0c5"/>
<rect x="1344.71" y="582.5" width="9.6" height="59.2" fill="#cce7d3"/>
<rect x="1356.77" y="582.5" width="9.6" height="59.2" fill="#f4e0df"/>
<rect x="1368.83" y="582.5" width="9.6" height="59.2" fill="#edcdcc"/>
<rect x="1380.90" y="582.5" width="9.6" height="59.2" fill="#e6b9b7"/>
<rect x="1392.96" y="582.5" width="9.6" height="59.2" fill="#e1aaa7"/>
<rect x="1405.02" y="582.5" width="9.6" height="59.2" fill="#da9692"/>
<rect x="1417.09" y="582.5" width="9.6" height="59.2" fill="#d68b87"/>
<rect x="1429.15" y="582.5" width="9.6" height="59.2" fill="#d2807c"/>
<rect x="1441.21" y="582.5" width="9.6" height="59.2" fill="#cf7772"/>
<rect x="1453.28" y="582.5" width="9.6" height="59.2" fill="#d2807c"/>
<rect x="1465.34" y="582.5" width="9.6" height="59.2" fill="#d68b87"/>
<rect x="1477.40" y="582.5" width="9.6" height="59.2" fill="#db9a97"/>
<rect x="1489.47" y="582.5" width="9.6" height="59.2" fill="#e4b2af"/>
<rect x="1501.53" y="582.5" width="9.6" height="59.2" fill="#eac4c2"/>
<rect x="1513.59" y="582.5" width="9.6" height="59.2" fill="#f0d4d2"/>
<rect x="1525.66" y="582.5" width="9.6" height="59.2" fill="#f4e0df"/>
<rect x="1537.72" y="582.5" width="9.6" height="59.2" fill="#c6e4ce"/>
<rect x="1549.78" y="582.5" width="9.6" height="59.2" fill="#add9b9"/>
<rect x="1561.85" y="582.5" width="9.6" height="59.2" fill="#9dd1ab"/>
<rect x="1573.91" y="582.5" width="9.6" height="59.2" fill="#8ecb9f"/>
<rect x="1585.97" y="582.5" width="9.6" height="59.2" fill="#80c492"/>
<rect x="1598.04" y="582.5" width="9.6" height="59.2" fill="#78c08c"/>
<rect x="1610.10" y="582.5" width="9.6" height="59.2" fill="#74be88"/>
<rect x="1622.16" y="582.5" width="9.6" height="59.2" fill="#6bbb81"/>
<rect x="1634.23" y="582.5" width="9.6" height="59.2" fill="#65b87c"/>
<rect x="1646.29" y="582.5" width="9.6" height="59.2" fill="#5fb576"/>
<rect x="1658.35" y="582.5" width="9.6" height="59.2" fill="#70bc84"/>
<rect x="1670.42" y="582.5" width="9.6" height="59.2" fill="#84c696"/>
<rect x="1682.48" y="582.5" width="9.6" height="59.2" fill="#a3d4b0"/>
<rect x="1694.54" y="582.5" width="9.6" height="59.2" fill="#b7dec2"/>
<rect x="1706.61" y="582.5" width="9.6" height="59.2" fill="#d2ead8"/>
<rect x="1718.67" y="582.5" width="9.6" height="59.2" fill="#eccac9"/>
<rect x="1730.73" y="582.5" width="9.6" height="59.2" fill="#e5b5b2"/>
<rect x="1742.80" y="582.5" width="9.6" height="59.2" fill="#e1aba9"/>
<rect x="1754.86" y="582.5" width="9.6" height="59.2" fill="#e0a7a4"/>
<rect x="1766.92" y="582.5" width="9.6" height="59.2" fill="#e0a7a4"/>
<rect x="1778.99" y="582.5" width="9.6" height="59.2" fill="#dea29f"/>
<rect x="1791.05" y="582.5" width="9.6" height="59.2" fill="#db9a97"/>
<rect x="1803.11" y="582.5" width="9.6" height="59.2" fill="#da9692"/>
<rect x="1815.18" y="582.5" width="9.6" height="59.2" fill="#db9a97"/>
<rect x="1827.24" y="582.5" width="9.6" height="59.2" fill="#dd9f9c"/>
<rect x="1839.30" y="582.5" width="9.6" height="59.2" fill="#e0a8a5"/>
</g>
<g stroke="#f0f0f6" stroke-width="2">
<line x1="369.1" x2="369.1" y1="663.6" y2="701.7"/>
<line x1="369.1" x2="369.1" y1="722.2" y2="760"/>
<line x1="369.1" x2="369.1" y1="780.5" y2="822"/>
<line x1="686.1" x2="686.1" y1="663.6" y2="701.7"/>
<line x1="686.1" x2="686.1" y1="722.2" y2="760"/>
<line x1="686.1" x2="686.1" y1="780.5" y2="822"/>
<line x1="999.7" x2="999.7" y1="663.6" y2="701.7"/>
<line x1="999.7" x2="999.7" y1="722.2" y2="760"/>
<line x1="999.7" x2="999.7" y1="780.5" y2="822"/>
<line x1="1316.7" x2="1316.7" y1="663.6" y2="701.7"/>
<line x1="1316.7" x2="1316.7" y1="722.2" y2="760"/>
<line x1="1316.7" x2="1316.7" y1="780.5" y2="822"/>
<line x1="1628.6" x2="1628.6" y1="663.6" y2="701.7"/>
<line x1="1628.6" x2="1628.6" y1="722.2" y2="760"/>
<line x1="1628.6" x2="1628.6" y1="780.5" y2="822"/>
</g>
<line x1="119.2" x2="1844.1" y1="681.8" y2="681.8" stroke="#d9dce0" stroke-width="2.2"/>
<line x1="119.2" x2="1844.1" y1="801.5" y2="801.5" stroke="#d9dce0" stroke-width="2.2"/>
<line x1="114.3" x2="1849" y1="822.9" y2="822.9" stroke="#d6d9dd" stroke-width="2.2"/>
<g clip-path="url(#cf)">
<path d="M240.12,675.80H263.67L251.90,660.50Z" fill="#1fa04a"/>
<path d="M722.65,675.80H746.21L734.43,660.50Z" fill="#1fa04a"/>
<path d="M939.79,675.80H963.35L951.57,660.50Z" fill="#1fa04a"/>
<path d="M1289.63,675.80H1313.18L1301.40,660.50Z" fill="#1fa04a"/>
<path d="M1530.89,675.80H1554.45L1542.67,660.50Z" fill="#1fa04a"/>
<path d="M589.95,688.20H613.51L601.73,703.50Z" fill="#dc2626"/>
<path d="M795.03,688.20H818.59L806.81,703.50Z" fill="#dc2626"/>
<path d="M1120.74,688.20H1144.30L1132.52,703.50Z" fill="#dc2626"/>
<path d="M1349.94,688.20H1373.50L1361.72,703.50Z" fill="#dc2626"/>
<path d="M1711.84,688.20H1735.40L1723.62,703.50Z" fill="#dc2626"/>
</g>
<path d="M152.44,747.50H182.46L167.45,728.00Z" fill="#2ea44e"/>
<path d="M164.51,747.50H194.53L179.52,728.00Z" fill="#2ea44e"/>
<path d="M176.57,747.50H206.59L191.58,728.00Z" fill="#2ea44e"/>
<path d="M188.63,747.50H218.65L203.64,728.00Z" fill="#2ea44e"/>
<path d="M212.76,747.50H242.78L227.77,728.00Z" fill="#2ea44e"/>
<path d="M224.82,747.50H254.84L239.83,728.00Z" fill="#2ea44e"/>
<path d="M972.75,734.10H1002.77L987.76,753.60Z" fill="#e63946"/>
<path d="M984.81,734.10H1014.83L999.82,753.60Z" fill="#e63946"/>
<path d="M996.87,734.10H1026.90L1011.88,753.60Z" fill="#e63946"/>
<path d="M1008.94,734.10H1038.96L1023.95,753.60Z" fill="#e63946"/>
<path d="M1021.00,734.10H1051.02L1036.01,753.60Z" fill="#e63946"/>
<path d="M1033.06,734.10H1063.09L1048.07,753.60Z" fill="#e63946"/>
<line x1="369.1" x2="369.1" y1="824" y2="831.7" stroke="#8a8a90" stroke-width="2"/>
<text x="369.1" y="857.6" font-size="22" text-anchor="middle" fill="#2e2e2e">Jul 2023</text>
<line x1="686.1" x2="686.1" y1="824" y2="831.7" stroke="#8a8a90" stroke-width="2"/>
<text x="686.1" y="857.6" font-size="22" text-anchor="middle" fill="#2e2e2e">Jan 2024</text>
<line x1="999.7" x2="999.7" y1="824" y2="831.7" stroke="#8a8a90" stroke-width="2"/>
<text x="999.7" y="857.6" font-size="22" text-anchor="middle" fill="#2e2e2e">Jul 2024</text>
<line x1="1316.7" x2="1316.7" y1="824" y2="831.7" stroke="#8a8a90" stroke-width="2"/>
<text x="1316.7" y="857.6" font-size="22" text-anchor="middle" fill="#2e2e2e">Jan 2025</text>
<line x1="1628.6" x2="1628.6" y1="824" y2="831.7" stroke="#8a8a90" stroke-width="2"/>
<text x="1628.6" y="857.6" font-size="22" text-anchor="middle" fill="#2e2e2e">Jul 2025</text>
<text x="107.4" y="183.5" font-size="24" text-anchor="end" fill="#333">0.5</text>
<text x="107.4" y="328.9" font-size="24" text-anchor="end" fill="#333">0</text>
<text x="107.4" y="474.4" font-size="24" text-anchor="end" fill="#333">−0.5</text>
<text x="1851.5" y="117.8" font-size="24" fill="#333">250</text>
<text x="1851.5" y="237.1" font-size="24" fill="#333">200</text>
<text x="1851.5" y="356.3" font-size="24" fill="#333">150</text>
<text x="1851.5" y="475.4" font-size="24" fill="#333">100</text>
<text transform="translate(26,319.8) rotate(-90)" font-size="28" text-anchor="middle" fill="#333">Market Threshold (Composite)</text>
<text transform="translate(1946,321) rotate(-90)" font-size="28" text-anchor="middle" fill="#333">Weekly Close Price</text>
<text x="0" y="40.4" font-size="36" fill="#363636">Market Threshold [Indicator]</text>
<text x="1931" y="791.6" font-size="24" text-anchor="end" fill="#8c8c8c">source: sharemaestro.com</text>
<path d="M180,940h60" stroke="#666870" stroke-width="3.6" stroke-dasharray="6,6" fill="none"/>
 <text x="249.8" y="948.6" font-size="24" fill="#333">Magic Line</text>
<path d="M479.5,940h60" stroke="#111" stroke-width="4" fill="none"/>
 <text x="549.3" y="948.6" font-size="24" fill="#333">Weekly Close</text>
<path d="M779,940h60" stroke="#bdb1ec" stroke-width="3.3" fill="none"/>
 <text x="848.8" y="948.6" font-size="24" fill="#333">Composite</text>
<path d="M1078,940h60" stroke="#1f6fa8" stroke-width="2.6" stroke-dasharray="18,18" fill="none"/>
 <text x="1147.8" y="948.6" font-size="24" fill="#333">Baseline (0)</text>
<path d="M1377.3,940h60" stroke="#8c8c8c" stroke-width="2" stroke-dasharray="6,6" fill="none"/>
 <text x="1447.1" y="948.6" font-size="24" fill="#333">Top Line</text>
<path d="M1676.7,940h60" stroke="#8c8c8c" stroke-width="2" stroke-dasharray="6,6" fill="none"/>
 <text x="1746.5" y="948.6" font-size="24" fill="#333">Bottom Line</text>
<path d="M198.22,983.10H221.78L210.00,967.80Z" fill="#1fa04a"/>
 <text x="249.8" y="986.6" font-size="24" fill="#333">Ribbon Flip Up</text>
<path d="M497.72,972.90H521.28L509.50,988.20Z" fill="#dc2626"/>
 <text x="549.3" y="986.6" font-size="24" fill="#333">Ribbon Flip Down</text>
<path d="M794.22,971.60H823.78L809.00,990.80Z" fill="#e63946"/>
 <text x="848.8" y="986.6" font-size="24" fill="#333">Sell Signal</text>
<path d="M1093.22,984.40H1122.78L1108.00,965.20Z" fill="#2ea44e"/>
 <text x="1147.8" y="986.6" font-size="24" fill="#333">Buy Signal</text>
</svg></body></html>
